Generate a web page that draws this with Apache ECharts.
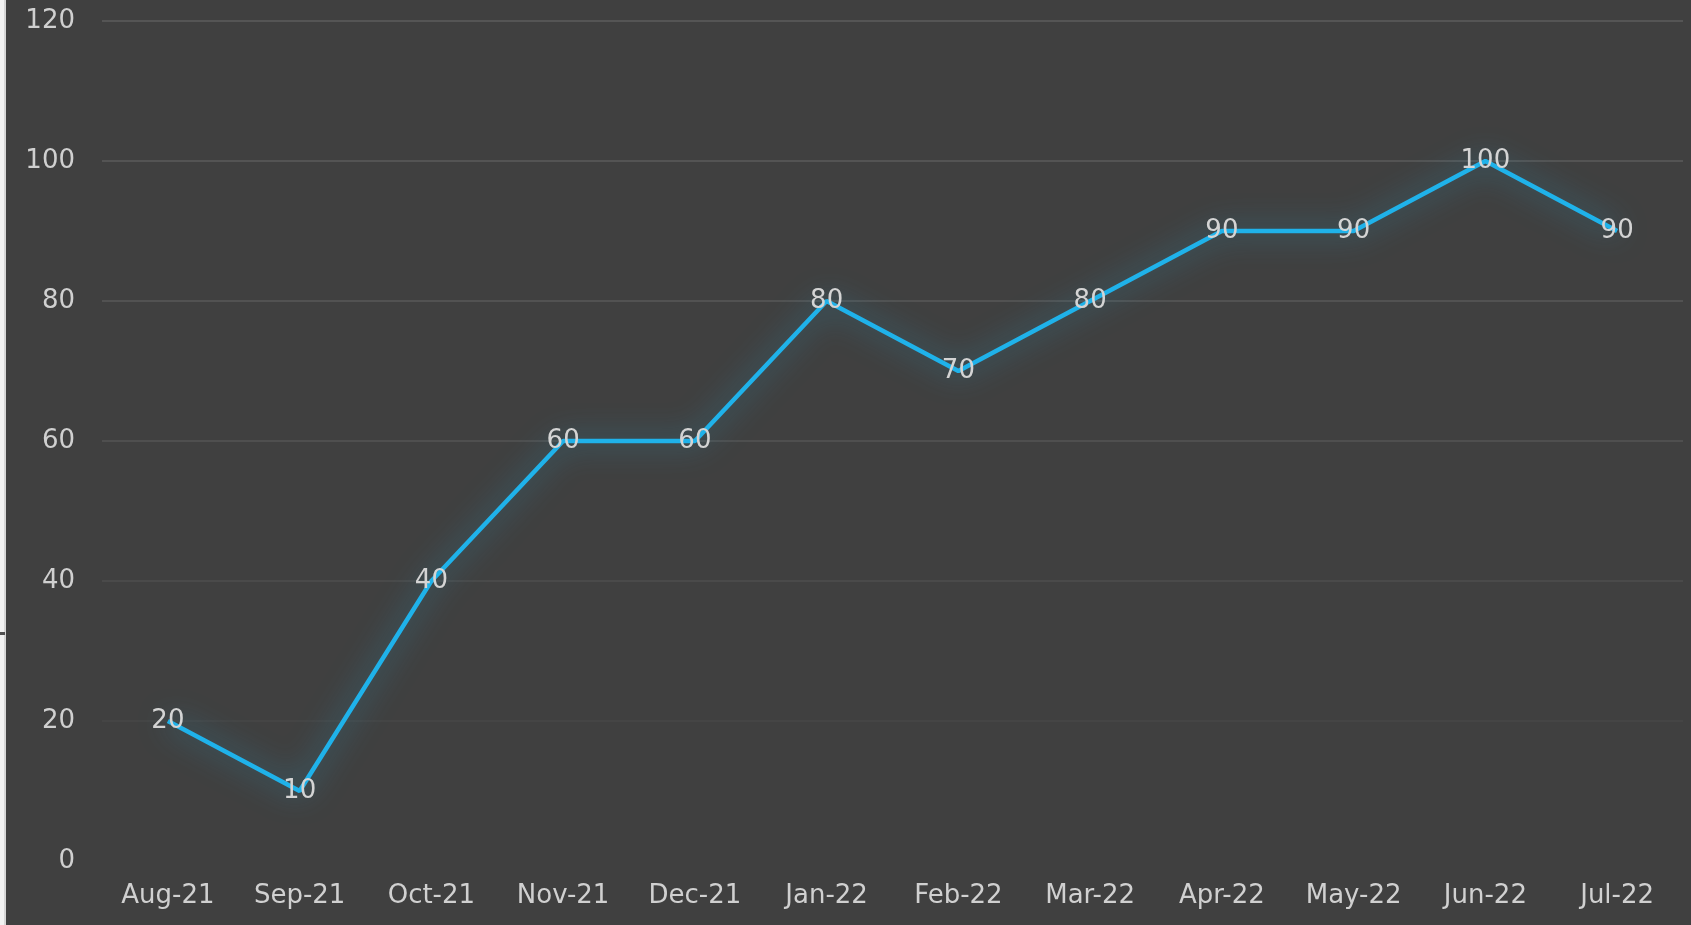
<!DOCTYPE html>
<html>
<head>
<meta charset="utf-8">
<script src="https://cdn.jsdelivr.net/npm/echarts@6/dist/echarts.min.js"></script>
<style>
html,body{margin:0;padding:0;background:#404040;}
#c{width:1691px;height:925px;}
</style>
</head>
<body>
<div id="c"></div>
<script>
const categories = ['Aug-21','Sep-21','Oct-21','Nov-21','Dec-21','Jan-22','Feb-22','Mar-22','Apr-22','May-22','Jun-22','Jul-22'];
const values = [20,10,40,60,60,80,70,80,90,90,100,90];
const yTicks = [0,20,40,60,80,100,120];

const chart = echarts.init(document.getElementById('c'));
const fontFamily = 'DejaVu Sans';
chart.setOption({
  backgroundColor: '#404040',
  animation: false,
  grid: {left: 102, right: 8, top: 21, bottom: 64},
  xAxis: {
    type: 'category',
    data: categories,
    boundaryGap: true,
    axisLine: {show: false},
    axisTick: {show: false},
    axisLabel: {color: '#d0d0d0', fontSize: 26, fontFamily: fontFamily, margin: 22}
  },
  yAxis: {
    type: 'value',
    min: yTicks[0],
    max: yTicks[yTicks.length - 1],
    interval: 20,
    axisLine: {show: false},
    axisTick: {show: false},
    axisLabel: {color: '#d0d0d0', fontSize: 26, fontFamily: fontFamily, margin: 27},
    splitLine: {
      show: true,
      lineStyle: {
        width: 1.5,
        color: ['rgba(0,0,0,0)', '#474747', '#4e4e4e', '#545454', '#585858', '#5b5b5b', '#5d5d5d']
      }
    }
  },
  series: [{
    type: 'line',
    data: values,
    symbol: 'circle',
    symbolSize: 0,
    showSymbol: true,
    lineStyle: {
      color: '#1fb2ea',
      width: 4.5,
      shadowColor: 'rgba(45,150,185,0.9)',
      shadowBlur: 30
    },
    itemStyle: {color: '#1fb2ea'},
    label: {
      show: true,
      position: 'inside',
      color: '#d4d4d4',
      fontSize: 26,
      fontFamily: fontFamily
    }
  }],
  graphic: [
    {type: 'rect', left: 0, top: 0, shape: {width: 4, height: 925}, style: {fill: '#f2f2f2'}, z: 100},
    {type: 'rect', left: 4, top: 0, shape: {width: 2, height: 925}, style: {fill: '#d6d6d6'}, z: 100},
    {type: 'rect', left: 0, top: 632, shape: {width: 5, height: 3}, style: {fill: '#505050'}, z: 101}
  ]
});
</script>
</body>
</html>
